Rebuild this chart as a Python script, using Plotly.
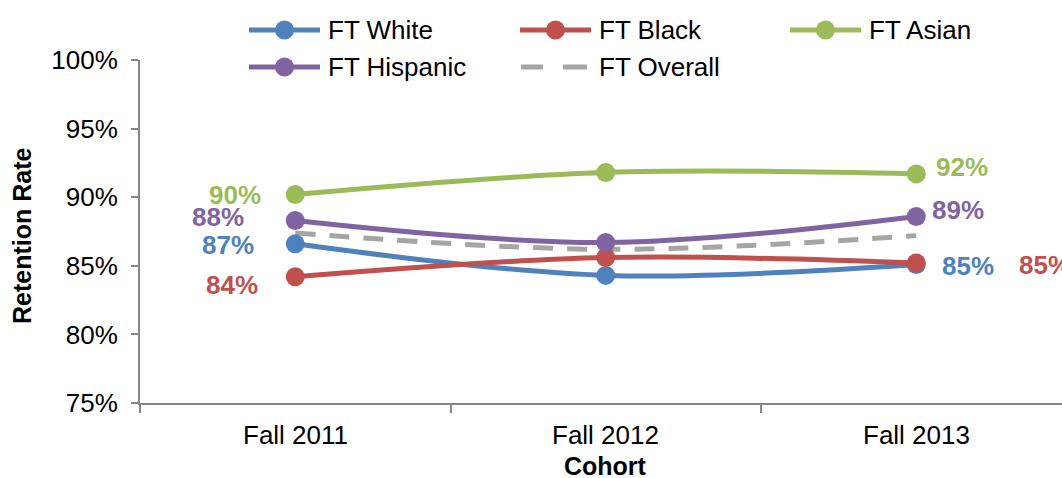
import plotly.graph_objects as go

# Cohorts and retention rates (%)
cohorts = ["Fall 2011", "Fall 2012", "Fall 2013"]
ft_white = [86.6, 84.3, 85.1]
ft_black = [84.2, 85.6, 85.2]
ft_asian = [90.2, 91.8, 91.7]
ft_hispanic = [88.3, 86.7, 88.6]
ft_overall = [87.4, 86.2, 87.2]

y_ticks = [75, 80, 85, 90, 95, 100]

BLUE = "#4F81BD"
RED = "#C0504D"
GREEN = "#9BBB59"
PURPLE = "#8064A2"
GREY = "#A5A5A5"
AXIS = "#868686"
FONT = "Liberation Sans, Arial, sans-serif"

W, H = 1062, 478
L, R, T, B = 140, 0, 60, 75
PW, PH = W - L - R, H - T - B

fig = go.Figure()

series = [
    ("FT White", ft_white, BLUE),
    ("FT Black", ft_black, RED),
    ("FT Asian", ft_asian, GREEN),
    ("FT Hispanic", ft_hispanic, PURPLE),
]
xs = list(range(len(cohorts)))

fig.add_trace(go.Scatter(
    x=xs, y=ft_overall, name="FT Overall", mode="lines",
    line=dict(color=GREY, width=5, dash="20px,14px", shape="spline", smoothing=1),
    showlegend=False, hoverinfo="skip"))

for name, vals, col in series:
    fig.add_trace(go.Scatter(
        x=xs, y=vals, name=name, mode="lines+markers",
        line=dict(color=col, width=5, shape="spline", smoothing=1),
        marker=dict(size=19, color=col),
        showlegend=False, cliponaxis=False))

# value labels at the first and last cohort: (series, color, first offset, last offset)
label_specs = [
    (ft_asian, GREEN, (-60, -1), (46, 7)),
    (ft_hispanic, PURPLE, (-77, 4), (42, 6)),
    (ft_white, BLUE, (-67, -1), (52, -2)),
    (ft_black, RED, (-63, -8), (129, -2)),
]
for vals, col, (dx0, dy0), (dx1, dy1) in label_specs:
    for idx, (dx, dy) in ((0, (dx0, dy0)), (len(vals) - 1, (dx1, dy1))):
        fig.add_annotation(
            x=idx, y=vals[idx], xref="x", yref="y",
            text=f"{vals[idx]:.0f}%", showarrow=False,
            xshift=dx, yshift=dy,
            font=dict(family=FONT, size=26, color=col, weight="bold"))


# legend drawn in pixel positions converted to paper coordinates
def px(xp):
    return (xp - L) / PW


def py(yp):
    return (H - B - yp) / PH


legend_items = [
    ("FT White", BLUE, 249, 30, "solid"),
    ("FT Black", RED, 520, 30, "solid"),
    ("FT Asian", GREEN, 790, 30, "solid"),
    ("FT Hispanic", PURPLE, 249, 67, "solid"),
    ("FT Overall", GREY, 520, 67, "dash"),
]
for name, col, x0, yc, kind in legend_items:
    if kind == "solid":
        fig.add_shape(type="line", xref="paper", yref="paper",
                      x0=px(x0), x1=px(x0 + 71), y0=py(yc), y1=py(yc),
                      line=dict(color=col, width=5))
        r = 9.5
        fig.add_shape(type="circle", xref="paper", yref="paper",
                      x0=px(x0 + 35.5 - r), x1=px(x0 + 35.5 + r),
                      y0=py(yc + r), y1=py(yc - r),
                      fillcolor=col, line=dict(color=col, width=0))
    else:
        for a, b in ((x0 + 1, x0 + 23), (x0 + 43, x0 + 67)):
            fig.add_shape(type="line", xref="paper", yref="paper",
                          x0=px(a), x1=px(b), y0=py(yc), y1=py(yc),
                          line=dict(color=col, width=5))
    fig.add_annotation(x=px(x0 + 77), y=py(yc), xref="paper", yref="paper",
                       text=name, showarrow=False, xanchor="left", yanchor="middle",
                       font=dict(family=FONT, size=26, color="#000000"))

fig.update_layout(
    width=W, height=H,
    margin=dict(l=L, r=R, t=T, b=B),
    paper_bgcolor="white", plot_bgcolor="white",
    font=dict(family=FONT, size=26, color="#000000"),
    showlegend=False,
    xaxis=dict(
        range=[-0.5, (W - L - R) / ((916 - 295) / 2) - 0.5],
        tickmode="array", tickvals=[x + 0.5 for x in xs[:-1]] + [-0.5],
        ticktext=["", "", ""],
        showgrid=False, zeroline=False,
        showline=True, linecolor=AXIS, linewidth=2,
        ticks="outside", ticklen=8, tickcolor=AXIS, tickwidth=2,
        title=None,
    ),
    yaxis=dict(
        range=[75, 100], tickmode="array", tickvals=y_ticks,
        ticktext=[f"{v}%" for v in y_ticks],
        showgrid=False, zeroline=False,
        showline=True, linecolor=AXIS, linewidth=2,
        ticks="outside", ticklen=7, tickcolor=AXIS, tickwidth=2,
        ticklabelstandoff=8,
        tickfont=dict(family=FONT, size=26),
        title=None,
    ),
)

# axis titles and category labels
fig.add_annotation(x=px(22), y=py(236), xref="paper", yref="paper",
                   text="<b>Retention Rate</b>", showarrow=False, textangle=-90,
                   xanchor="center", yanchor="middle",
                   font=dict(family=FONT, size=25, color="#000000"))
for i, c in enumerate(cohorts):
    fig.add_annotation(x=i, y=0, xref="x", yref="paper", yanchor="middle",
                       text=c, showarrow=False, yshift=-32,
                       font=dict(family=FONT, size=26, color="#000000"))
fig.add_annotation(x=1, y=0, xref="x", yref="paper", yanchor="middle",
                   text="<b>Cohort</b>", showarrow=False, yshift=-63,
                   font=dict(family=FONT, size=25, color="#000000"))

fig.write_html("out.html")
